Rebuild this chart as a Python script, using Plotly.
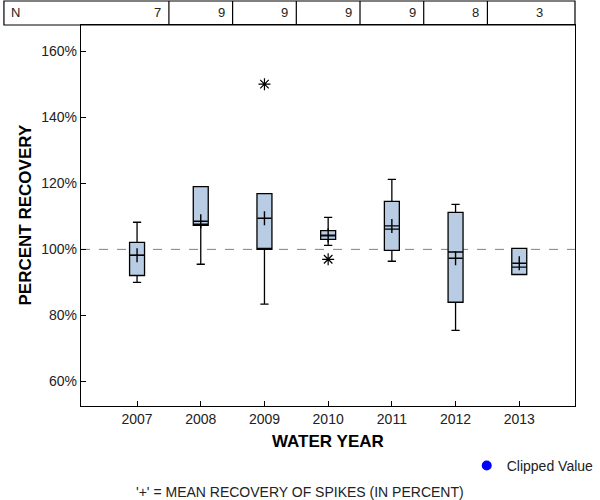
import plotly.graph_objects as go

years = ["2007", "2008", "2009", "2010", "2011", "2012", "2013"]
n_counts = [7, 9, 9, 9, 9, 8, 3]
q1_vals = [92.1, 107.3, 100.0, 103.0, 99.7, 84.0, 92.4]
median_vals = [98.2, 107.3, 100.0, 104.1, 106.1, 99.2, 94.6]
q3_vals = [102.1, 119.0, 116.9, 105.7, 114.5, 111.2, 100.3]
lower_vals = [90.0, 95.5, 83.4, 101.2, 96.4, 75.5, 92.4]
upper_vals = [108.2, 119.0, 116.9, 109.7, 121.2, 113.6, 100.3]
mean_vals = [98.2, 108.5, 109.4, 104.3, 107.1, 97.3, 95.8]
outlier_years = ["2009", "2010"]
outlier_vals = [150.0, 97.0]
y_ticks = [60, 80, 100, 120, 140, 160]

FONT = "Liberation Sans, Arial, sans-serif"

fig = go.Figure()

fig.add_trace(go.Box(
    x=years, q1=q1_vals, median=median_vals, q3=q3_vals,
    lowerfence=lower_vals, upperfence=upper_vals,
    width=0.235, whiskerwidth=0.55,
    fillcolor="#B8CCE4", line=dict(color="black", width=1.3),
    boxpoints=False, showlegend=False, hoverinfo="skip",
))

fig.add_trace(go.Scatter(
    x=years, y=mean_vals, mode="markers",
    marker=dict(symbol="cross-thin", size=10, color="black",
                line=dict(color="black", width=1.4)),
    showlegend=False, hoverinfo="skip",
))

fig.add_trace(go.Scatter(
    x=outlier_years, y=outlier_vals, mode="markers",
    marker=dict(symbol="asterisk-open", size=10, color="black",
                line=dict(color="black", width=1.2)),
    showlegend=False, hoverinfo="skip",
))

fig.add_trace(go.Scatter(
    x=[None], y=[None], mode="markers", name="Clipped Value",
    marker=dict(symbol="circle", size=10, color="#0000FF"),
    showlegend=True,
))

# reference line at 100%
fig.add_hline(y=100, line=dict(color="#808080", width=1, dash="dash"), layer="below")

# N table above the plot
table_top = 1.063
fig.add_shape(type="rect", xref="paper", yref="paper", x0=-0.156, x1=1.0,
              y0=1.0, y1=table_top, line=dict(color="black", width=1.2), fillcolor="rgba(0,0,0,0)")
for i in range(len(years) - 1):
    fig.add_shape(type="line", xref="x", yref="paper", x0=i + 0.5, x1=i + 0.5,
                  y0=1.0, y1=table_top, line=dict(color="black", width=1.2))
for i, n in enumerate(n_counts):
    fig.add_annotation(x=i + 0.5, y=(1.0 + table_top) / 2, xref="x", yref="paper",
                       text=str(n), showarrow=False, xanchor="right", yanchor="middle",
                       xshift=-6, font=dict(family=FONT, size=13, color="#222"))
fig.add_annotation(x=-0.156, y=(1.0 + table_top) / 2, xref="paper", yref="paper",
                   text="N", showarrow=False, xanchor="left", yanchor="middle",
                   xshift=5, font=dict(family=FONT, size=13, color="#222"))

# axis titles and footer
fig.add_annotation(x=0.5, y=0, xref="paper", yref="paper", text="<b>WATER YEAR</b>",
                   showarrow=False, xanchor="center", yanchor="middle", yshift=-35,
                   font=dict(family=FONT, size=17, color="black"))
fig.add_annotation(x=0, y=0.5, xref="paper", yref="paper", text="<b>PERCENT RECOVERY</b>",
                   showarrow=False, xanchor="center", yanchor="middle", xshift=-56,
                   textangle=-90, font=dict(family=FONT, size=17, color="black"))
fig.add_annotation(x=0.443, y=0, xref="paper", yref="paper",
                   text="'+' = MEAN RECOVERY OF SPIKES (IN PERCENT)",
                   showarrow=False, xanchor="center", yanchor="middle", yshift=-86,
                   font=dict(family=FONT, size=14, color="#222"))

fig.update_layout(
    width=600, height=500,
    margin=dict(l=81, r=25, t=25, b=94, autoexpand=False),
    paper_bgcolor="white", plot_bgcolor="white",
    font=dict(family=FONT, size=14, color="#222"),
    xaxis=dict(type="category", range=[-0.88, 6.875], showgrid=False, zeroline=False,
               showline=True, linecolor="black", linewidth=1.3, mirror=True,
               ticks="inside", ticklen=5, tickcolor="black",
               tickfont=dict(family=FONT, size=14, color="#222")),
    yaxis=dict(range=[52.6, 167.9], showgrid=False, zeroline=False,
               showline=True, linecolor="black", linewidth=1.3, mirror=True,
               tickvals=y_ticks, ticktext=[f"{v}%" for v in y_ticks],
               ticks="inside", ticklen=5, tickcolor="black",
               tickfont=dict(family=FONT, size=14, color="#222")),
    legend=dict(x=1.048, xanchor="right", y=-0.157, yanchor="middle",
                bgcolor="rgba(0,0,0,0)", font=dict(family=FONT, size=14, color="#222"),
                itemwidth=30),
)

fig.write_html("out.html", config={"displayModeBar": False},
               post_script="document.body.style.margin='0';document.body.style.overflow='hidden';")
